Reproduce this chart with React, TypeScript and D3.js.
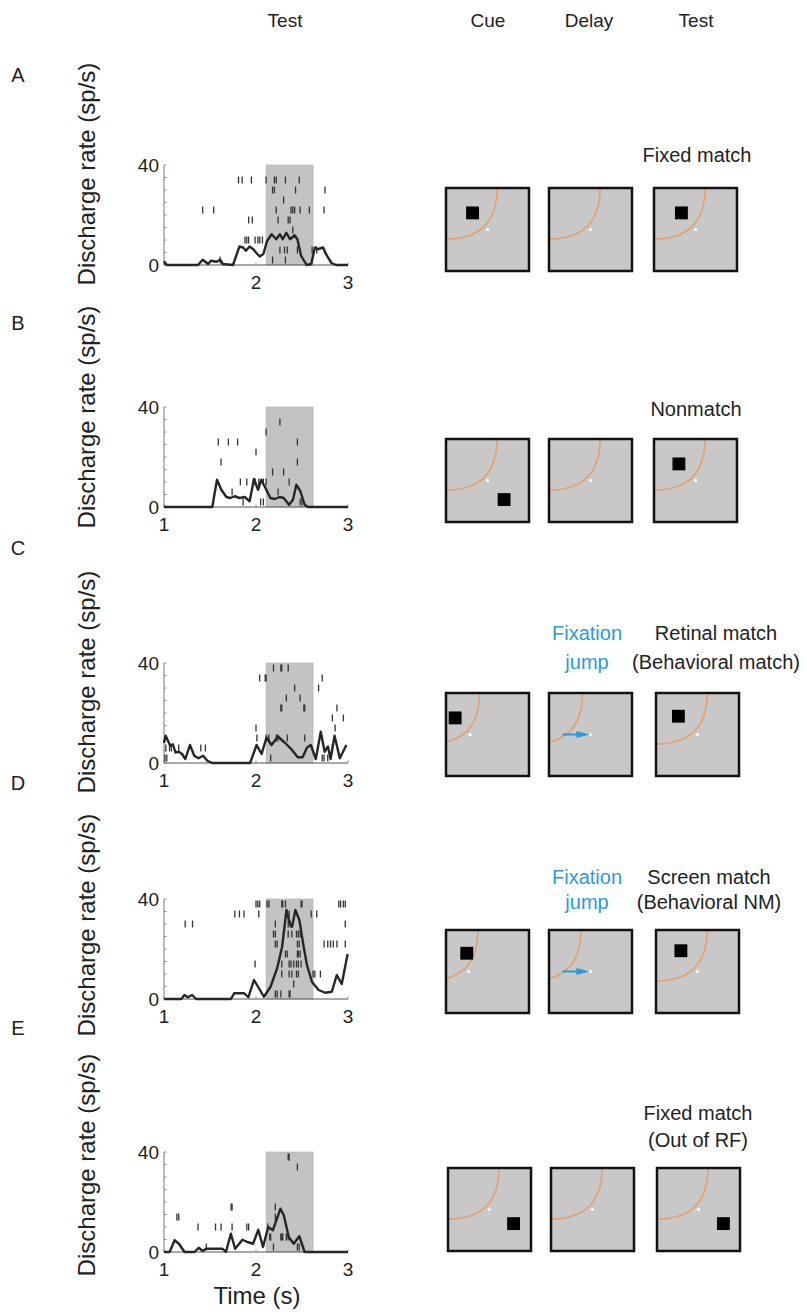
import React from 'react';
import * as d3 from 'd3';

// PSTH traces: [time (s), discharge rate (sp/s)]
const psthA = [[1.0,1.5],[1.03,0],[1.37,0],[1.42,2.1],[1.48,0.4],[1.51,1.7],[1.57,1.3],[1.61,2.1],[1.64,0.4],[1.75,0],[1.82,7.4],[1.86,7.0],[1.89,5.7],[1.93,7.4],[1.97,6.3],[2.0,5.0],[2.04,3.4],[2.08,4.4],[2.12,9.6],[2.17,12.3],[2.22,10.3],[2.26,12.3],[2.29,10.3],[2.33,12.9],[2.37,10.3],[2.42,11.9],[2.45,10.3],[2.49,3.7],[2.55,0],[2.6,0.4],[2.64,7.0],[2.67,6.3],[2.73,7.0],[2.76,4.4],[2.82,0.8],[2.87,0],[3.0,0]];
const psthB = [[1.0,0],[1.525,0],[1.576,10.9],[1.623,6.9],[1.678,4.0],[1.721,3.6],[1.768,4.3],[1.822,3.6],[1.877,4.0],[1.931,2.3],[1.978,11.2],[2.022,6.9],[2.058,10.9],[2.112,6.9],[2.156,3.6],[2.203,3.2],[2.257,4.0],[2.301,3.6],[2.359,0.9],[2.402,2.9],[2.438,8.9],[2.482,6.3],[2.529,0.9],[2.565,0],[3.0,0]];
const psthC = [[1.0,8.0],[1.018,10.9],[1.043,8.9],[1.068,6.9],[1.096,7.5],[1.125,4.2],[1.161,4.5],[1.196,3.6],[1.232,1.6],[1.282,7.2],[1.329,2.9],[1.375,1.9],[1.425,2.9],[1.471,0.9],[1.525,0],[1.936,0],[2.007,7.2],[2.061,3.6],[2.114,10.2],[2.168,7.2],[2.239,10.6],[2.311,8.2],[2.382,5.6],[2.454,2.3],[2.507,2.3],[2.554,6.2],[2.596,7.2],[2.65,1.6],[2.704,12.5],[2.746,4.5],[2.782,6.6],[2.811,1.6],[2.854,10.9],[2.911,1.9],[2.982,7.2]];
const psthD = [[1.0,0],[1.187,0],[1.223,1.6],[1.259,0.7],[1.306,1.6],[1.349,0],[1.727,0],[1.763,2.3],[1.871,2.3],[1.917,0.7],[1.978,7.6],[2.032,4.3],[2.086,0.9],[2.158,4.9],[2.23,12.3],[2.284,20.9],[2.331,35.6],[2.367,30.3],[2.392,28.9],[2.428,35.6],[2.471,31.6],[2.518,20.9],[2.554,13.6],[2.608,6.9],[2.68,3.6],[2.752,2.5],[2.824,2.9],[2.878,9.6],[2.932,6.0],[2.996,18.0]];
const psthE = [[1.0,0],[1.061,0],[1.115,4.7],[1.162,3.3],[1.223,0],[1.331,0],[1.378,1.7],[1.421,0.4],[1.457,1.3],[1.637,1.3],[1.673,0],[1.727,7.3],[1.773,1.3],[1.853,4.9],[1.906,4.0],[1.968,3.3],[2.025,8.9],[2.076,2.0],[2.133,10.0],[2.183,8.7],[2.266,17.3],[2.302,14.7],[2.356,6.0],[2.41,3.3],[2.471,6.3],[2.529,0],[3.0,0]];

// spike rasters: one list of spike times per trial, top trial first
const rasterA = [
  [1.81,1.85,1.95,2.11,2.2,2.22,2.32,2.47],
  [2.18,2.2,2.43,2.75],
  [2.3],
  [1.42,1.54,2.22,2.38,2.4,2.42,2.48,2.58,2.74],
  [1.92,1.96,2.24,2.35,2.37],
  [2.4],
  [1.88,1.9,1.92,1.99,2.02,2.04,2.07],
  [2.26,2.31,2.34,2.45,2.61,2.66],
  [1.61,2.18,2.32],
];
const rasterB = [
  [2.26],
  [2.11],
  [1.59,1.7,1.8,2.45],
  [2.0],
  [1.62,2.45],
  [2.18,2.3],
  [1.83,1.9,1.99,2.03,2.08,2.11,2.36],
  [1.74,2.24],
  [1.86,2.05,2.08,2.48,2.5],
];
const rasterC = [
  [2.19,2.27,2.28,2.35],
  [2.04,2.1,2.11,2.72],
  [2.42,2.68],
  [2.33,2.48],
  [2.27,2.28,2.52,2.53,2.88],
  [2.83,2.95],
  [2.0,2.86],
  [2.01,2.11,2.14,2.22,2.24,2.34,2.53],
  [1.02,1.06,1.08,1.16,1.4,1.45,2.83],
  [1.01,1.03,2.16,2.72,2.74,2.78],
];
const rasterD = [
  [2.0,2.02,2.04,2.12,2.14,2.28,2.29,2.32,2.49,2.5,2.9,2.92,2.95,2.97],
  [1.77,1.82,1.87,2.03,2.34,2.36,2.6,2.66],
  [1.23,1.31,2.21,2.35,2.37,2.97],
  [2.19,2.21,2.35,2.39,2.44,2.46,2.48],
  [2.21,2.23,2.45,2.47,2.74,2.78,2.81,2.84,2.88,2.97],
  [2.32,2.34,2.45,2.46,2.48],
  [1.99,2.28,2.36,2.38,2.41,2.44,2.46,2.49],
  [2.28,2.36,2.39,2.44,2.46,2.62,2.64,2.7],
  [2.41],
  [2.21,2.23,2.27,2.36,2.37],
];
const rasterE = [
  [2.35,2.36],
  [2.45],
  [],
  [],
  [],
  [1.73,1.74,2.21],
  [1.14,1.16,2.21],
  [1.37,1.56,1.62,1.74,1.9,1.92,2.13],
  [2.15,2.16,2.27,2.28,2.29,2.33,2.35],
  [1.46,2.19,2.45,2.47],
];

const testWindow = [2.11, 2.62];
const yTicks = [0, 40];
const xTicks = [1, 2, 3];
const headers = ['Test', 'Cue', 'Delay', 'Test'];

// schematic conditions: target / fixation in screen units (0..1)
const condA = [
  {fix: [0.5, 0.5], arcFix: [0.5, 0.5], target: [0.32, 0.3]},
  {fix: [0.5, 0.5], arcFix: [0.5, 0.5], target: null},
  {fix: [0.5, 0.5], arcFix: [0.5, 0.5], target: [0.33, 0.3]},
];
const condB = [
  {fix: [0.5, 0.5], arcFix: [0.5, 0.5], target: [0.7, 0.73]},
  {fix: [0.5, 0.5], arcFix: [0.5, 0.5], target: null},
  {fix: [0.5, 0.5], arcFix: [0.5, 0.5], target: [0.3, 0.3]},
];
const condC = [
  {fix: [0.29, 0.5], arcFix: [0.29, 0.5], target: [0.11, 0.3]},
  {fix: [0.5, 0.5], arcFix: [0.29, 0.5], target: null, jumpFrom: 0.16},
  {fix: [0.5, 0.5], arcFix: [0.5, 0.5], target: [0.27, 0.28]},
];
const condD = [
  {fix: [0.27, 0.5], arcFix: [0.27, 0.5], target: [0.25, 0.28]},
  {fix: [0.5, 0.5], arcFix: [0.27, 0.5], target: null, jumpFrom: 0.16},
  {fix: [0.5, 0.5], arcFix: [0.5, 0.5], target: [0.3, 0.25]},
];
const condE = [
  {fix: [0.5, 0.5], arcFix: [0.5, 0.5], target: [0.79, 0.67]},
  {fix: [0.5, 0.5], arcFix: [0.5, 0.5], target: null},
  {fix: [0.5, 0.5], arcFix: [0.5, 0.5], target: [0.8, 0.67]},
];

const FONT = '"Liberation Sans", Arial, Helvetica, sans-serif';
const NARROW = '"Liberation Sans Narrow", "Liberation Sans", Arial, sans-serif';
const BLUE = '#2a9ad8';

const panels = [
  {id: 'A', letterY: 82, top: 165, psth: psthA, raster: rasterA, rowTop: 34, labelY: 174,
    showOne: false, squaresY: 188, squaresX: [446, 549, 654], cond: condA,
    lines: ['Fixed match'], linesY: [162], linesX: 697, jump: false},
  {id: 'B', letterY: 330, top: 407, psth: psthB, raster: rasterB, rowTop: 34, labelY: 417,
    showOne: true, squaresY: 439, squaresX: [446, 549, 654], cond: condB,
    lines: ['Nonmatch'], linesY: [416], linesX: 696, jump: false},
  {id: 'C', letterY: 555, top: 663, psth: psthC, raster: rasterC, rowTop: 38, labelY: 682,
    showOne: true, squaresY: 693, squaresX: [446, 549, 656], cond: condC,
    lines: ['Retinal match', '(Behavioral match)'], linesY: [640, 669], linesX: 716, jump: true},
  {id: 'D', letterY: 790, top: 899, psth: psthD, raster: rasterD, rowTop: 38, labelY: 925,
    showOne: true, squaresY: 930, squaresX: [446, 549, 656], cond: condD,
    lines: ['Screen match', '(Behavioral NM)'], linesY: [884, 909], linesX: 709, jump: true},
  {id: 'E', letterY: 1035, top: 1152, psth: psthE, raster: rasterE, rowTop: 38, labelY: 1165,
    showOne: true, squaresY: 1168, squaresX: [448, 551, 657], cond: condE,
    lines: ['Fixed match', '(Out of RF)'], linesY: [1120, 1147], linesX: 698, jump: false},
];

const x = d3.scaleLinear().domain([1, 3]).range([164, 348]);
const PH = 100;
const SQ = 83;

const Plot = ({p}) => {
  const y = d3.scaleLinear().domain([0, 40]).range([p.top + PH, p.top]);
  const line = d3.line().x(d => x(d[0])).y(d => y(d[1]));
  const labels = p.showOne ? xTicks : xTicks.slice(1);
  return (
    <g>
      <text x={18} y={p.letterY} fontFamily={NARROW} fontSize={20} textAnchor="middle" fill="#222">{p.id}</text>
      <text transform={`translate(95,${p.labelY}) rotate(-90)`} fontFamily={FONT} fontSize={24}
        textAnchor="middle" fill="#222">Discharge rate (sp/s)</text>
      <rect x={x(testWindow[0])} y={y(40)} width={x(testWindow[1]) - x(testWindow[0])} height={y(0) - y(40)}
        fill="#c3c3c3" stroke="#adadad" strokeWidth={0.6} />
      <line x1={x(1)} x2={x(1)} y1={y(0)} y2={y(40)} stroke="#777" strokeWidth={1} />
      {d3.range(0, 41, 5).map(v => (
        <line key={v} x1={x(1)} x2={x(1) + 2.5} y1={y(v)} y2={y(v)} stroke="#777" strokeWidth={0.8} />
      ))}
      <line x1={x(1)} x2={x(3)} y1={y(0)} y2={y(0)} stroke="#555" strokeWidth={1.2} />
      {xTicks.map(t => (
        <line key={t} x1={x(t)} x2={x(t)} y1={y(0)} y2={y(0) - 2.5} stroke="#777" strokeWidth={0.8} />
      ))}
      {yTicks.map(v => (
        <text key={v} x={159} y={y(v)} dy="0.36em" textAnchor="end" fontFamily={FONT} fontSize={19} fill="#222">{v}</text>
      ))}
      {labels.map(t => (
        <text key={t} x={x(t)} y={y(0) + 24} textAnchor="middle" fontFamily={FONT} fontSize={19} fill="#222">{t}</text>
      ))}
      {p.raster.map((row, i) => row.map((t, j) => {
        const yc = y(p.rowTop - 4 * i);
        return <line key={i + '-' + j} x1={x(t)} x2={x(t)} y1={yc - 3.5} y2={yc + 3.5} stroke="#333" strokeWidth={1.3} />;
      }))}
      <path d={line(p.psth)} fill="none" stroke="#262626" strokeWidth={2.4} strokeLinejoin="round" />
    </g>
  );
};

const Screen = ({x0, y0, c, uid}) => {
  const sx = d3.scaleLinear().domain([0, 1]).range([x0, x0 + SQ]);
  const sy = d3.scaleLinear().domain([0, 1]).range([y0, y0 + SQ]);
  const r = 0.615 * SQ;
  const k = 0.66 * r;
  const cx = sx(c.arcFix[0] - 0.5);
  const cy = sy(c.arcFix[1] - 0.5);
  // rounded-corner boundary of the receptive field
  const arc = d3.path();
  arc.moveTo(cx + r, cy - 5);
  arc.lineTo(cx + r, cy);
  arc.bezierCurveTo(cx + r, cy + k, cx + k, cy + r, cx, cy + r);
  arc.lineTo(cx - 30, cy + r);
  const ts = 0.155 * SQ;
  return (
    <g>
      <clipPath id={uid}><rect x={x0} y={y0} width={SQ} height={SQ} /></clipPath>
      <rect x={x0} y={y0} width={SQ} height={SQ} fill="#c8c8c8" />
      <path d={arc.toString()} fill="none" stroke="#e6a06a" strokeWidth={1.6} clipPath={`url(#${uid})`} />
      {c.target && (
        <rect x={sx(c.target[0]) - ts / 2} y={sy(c.target[1]) - ts / 2} width={ts} height={ts} fill="#000" />
      )}
      {c.jumpFrom != null && (
        <g>
          <line x1={sx(c.jumpFrom)} x2={sx(0.4)} y1={sy(0.5)} y2={sy(0.5)} stroke={BLUE} strokeWidth={2} />
          <path d={`M${sx(0.33)},${sy(0.5) - 3.5}L${sx(0.49)},${sy(0.5)}L${sx(0.33)},${sy(0.5) + 3.5}Z`} fill={BLUE} />
        </g>
      )}
      <circle cx={sx(c.fix[0])} cy={sy(c.fix[1])} r={1.6} fill="#fff" />
      <rect x={x0} y={y0} width={SQ} height={SQ} fill="none" stroke="#111" strokeWidth={2.5} />
    </g>
  );
};

const Schematic = ({p}) => (
  <g>
    {p.cond.map((c, i) => (
      <Screen key={i} x0={p.squaresX[i]} y0={p.squaresY} c={c} uid={`clip${p.id}${i}`} />
    ))}
    {p.lines.map((s, i) => (
      <text key={s} x={p.linesX} y={p.linesY[i]} textAnchor="middle" fontFamily={FONT} fontSize={20} fill="#222">{s}</text>
    ))}
    {p.jump && (
      <g fontFamily={FONT} fontSize={20} fill={BLUE} textAnchor="middle">
        <text x={587} y={p.linesY[0]}>Fixation</text>
        <text x={587} y={p.linesY[1]}>jump</text>
      </g>
    )}
  </g>
);

const App = () => {
  const headerX = [285, 488, 589, 696];
  return (
    <svg width={807} height={1314} style={{position: 'absolute', left: 0, top: 0, background: '#fff'}}>
      {headers.map((h, i) => (
        <text key={i} x={headerX[i]} y={27} textAnchor="middle" fontFamily={NARROW} fontSize={19} fill="#222">{h}</text>
      ))}
      {panels.map(p => (
        <g key={p.id}>
          <Plot p={p} />
          <Schematic p={p} />
        </g>
      ))}
      <text x={257} y={1304} textAnchor="middle" fontFamily={FONT} fontSize={24} fill="#222">Time (s)</text>
    </svg>
  );
};

export default App;
